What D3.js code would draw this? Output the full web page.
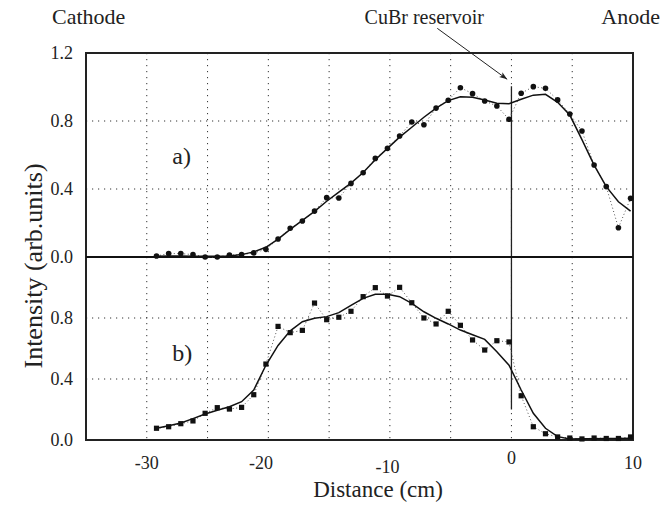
<!DOCTYPE html>
<html><head><meta charset="utf-8">
<script src="https://cdn.jsdelivr.net/npm/d3@7/dist/d3.min.js"></script>
<style>
html,body{margin:0;padding:0;background:#fff;}
</style></head>
<body><svg id="c" width="666" height="506"></svg>
<script>
// ---- data ----
const distance = [-29.2,-28.2,-27.2,-26.2,-25.2,-24.2,-23.2,-22.2,-21.2,-20.2,
  -19.2,-18.2,-17.2,-16.2,-15.2,-14.2,-13.2,-12.2,-11.2,-10.2,
  -9.2,-8.2,-7.2,-6.2,-5.2,-4.2,-3.2,-2.2,-1.2,-0.2,
  0.8,1.8,2.8,3.8,4.8,5.8,6.8,7.8,8.8,9.8];
const measuredA = [0.006,0.02,0.02,0.014,0.0,0.0,0.012,0.014,0.024,0.045,
  0.106,0.169,0.212,0.27,0.349,0.347,0.433,0.496,0.58,0.639,
  0.712,0.794,0.778,0.876,0.922,0.996,0.961,0.918,0.888,0.81,
  0.963,1.002,0.992,0.924,0.841,0.741,0.541,0.414,0.172,0.345];
const fitA = [0.004,0.006,0.006,0.005,0.004,0.004,0.006,0.014,0.03,0.057,
  0.105,0.162,0.215,0.268,0.328,0.382,0.435,0.497,0.572,0.639,
  0.705,0.763,0.822,0.876,0.92,0.943,0.94,0.924,0.905,0.902,
  0.928,0.952,0.957,0.91,0.835,0.69,0.541,0.414,0.325,0.27];
const measuredB = [0.077,0.087,0.107,0.125,0.175,0.212,0.203,0.214,0.297,0.498,
  0.745,0.704,0.719,0.898,0.789,0.805,0.844,0.94,0.999,0.944,
  1.001,0.9,0.8,0.761,0.844,0.752,0.656,0.59,0.651,0.643,
  0.29,0.087,0.041,0.02,0.013,0.007,0.013,0.01,0.01,0.02];
const fitB = [0.077,0.094,0.111,0.14,0.17,0.195,0.218,0.251,0.328,0.49,
  0.62,0.716,0.776,0.798,0.809,0.835,0.883,0.929,0.955,0.955,
  0.94,0.896,0.841,0.798,0.761,0.721,0.69,0.66,0.579,0.49,
  0.328,0.175,0.077,0.022,0.007,0.008,0.009,0.01,0.01,0.011];
const xTicks = [-30,-20,-10,0,10];
const xGrid = [-30,-25,-20,-15,-10,-5,0,5];
const yTicks = [0.0,0.4,0.8];
const yTicksTop = [0.0,0.4,0.8,1.2];
const reservoirX = 0;

// ---- scales ----
const svg = d3.select("#c");
const x = d3.scaleLinear([-35,10],[86,633]);
const yA = d3.scaleLinear([0,1.2],[257,53]);
const yB = d3.scaleLinear([0,1.2],[440,257]);
const fmt = d3.format(".1f");
const FONT = "'Liberation Serif', 'Tinos', 'Times New Roman', serif";
function txt(sel, size){
  return sel.style("font-family", FONT, "important").style("font-size", size+"px", "important")
    .style("fill", "#222", "important");
}

// grids
const grid = svg.append("g").attr("stroke","#333").attr("stroke-width",1).attr("stroke-dasharray","1.2,4.8");
[[yA,[0.4,0.8]],[yB,[0.4,0.8]]].forEach(([ys,vals])=>{
  grid.selectAll(null).data(vals).enter().append("line")
    .attr("x1",x(-35)).attr("x2",x(10)).attr("y1",d=>ys(d)).attr("y2",d=>ys(d));
  grid.selectAll(null).data(xGrid).enter().append("line")
    .attr("x1",d=>x(d)).attr("x2",d=>x(d)).attr("y1",ys(1.2)).attr("y2",ys(0));
});

// reservoir line
svg.append("line").attr("x1",x(reservoirX)).attr("x2",x(reservoirX))
  .attr("y1",yA(1.005)).attr("y2",yB(0.2)).attr("stroke","#222").attr("stroke-width",1.3);

// frame
svg.append("rect").attr("x",x(-35)).attr("y",yA(1.2)).attr("width",x(10)-x(-35)).attr("height",yB(0)-yA(1.2))
  .attr("fill","none").attr("stroke","#222").attr("stroke-width",2);
svg.append("line").attr("x1",x(-35)).attr("x2",x(10)).attr("y1",yA(0)).attr("y2",yA(0))
  .attr("stroke","#111").attr("stroke-width",2.2);

function panel(ys, meas, fit, square){
  const g = svg.append("g");
  const ptsM = distance.map((d,i)=>[d,meas[i]]);
  const ptsF = distance.map((d,i)=>[d,fit[i]]);
  const line = d3.line().x(d=>x(d[0])).y(d=>ys(d[1]));
  g.append("path").attr("d",line(ptsM)).attr("fill","none").attr("stroke","#555")
    .attr("stroke-width",1).attr("stroke-dasharray","1,2.5");
  g.append("path").attr("d",line(ptsF)).attr("fill","none").attr("stroke","#111").attr("stroke-width",1.5);
  if(square){
    g.selectAll(null).data(ptsM).enter().append("rect")
      .attr("x",d=>x(d[0])-2.6).attr("y",d=>ys(d[1])-2.6).attr("width",5.2).attr("height",5.2).attr("fill","#111");
  } else {
    g.selectAll(null).data(ptsM).enter().append("circle")
      .attr("cx",d=>x(d[0])).attr("cy",d=>ys(d[1])).attr("r",2.8).attr("fill","#111");
  }
}
panel(yA, measuredA, fitA, false);
panel(yB, measuredB, fitB, true);

// y tick labels
txt(svg.selectAll(null).data(yTicksTop).enter().append("text")
  .attr("x",73).attr("y",d=>yA(d)).attr("dy","0.35em").attr("text-anchor","end").text(d=>fmt(d)), 18);
txt(svg.selectAll(null).data(yTicks).enter().append("text")
  .attr("x",73).attr("y",d=>yB(d)).attr("dy","0.35em").attr("text-anchor","end").text(d=>fmt(d)), 18);

// x tick labels (as placed in the original figure)
const xLabelAt = [-30,-20.6,-10.2,0,10];
const xLabelY = [469,469,473,464,469];
txt(svg.selectAll(null).data(xTicks).enter().append("text")
  .attr("x",(d,i)=>x(xLabelAt[i])).attr("y",(d,i)=>xLabelY[i]).attr("text-anchor","middle").text(d=>d), 18);

// axis titles
txt(svg.append("text").attr("x",378).attr("y",497).attr("text-anchor","middle").text("Distance (cm)"), 23);
txt(svg.append("text").attr("transform","translate(42,266) rotate(-90)").attr("text-anchor","middle")
  .text("Intensity (arb.units)"), 26);

// panel labels
txt(svg.append("text").attr("x",x(-27.9)).attr("y",yA(0.6)+9).text("a)"), 24);
txt(svg.append("text").attr("x",x(-27.9)).attr("y",yB(0.58)+9).text("b)"), 24);

// header labels
txt(svg.append("text").attr("x",52).attr("y",24).text("Cathode"), 22);
txt(svg.append("text").attr("x",484).attr("y",24).attr("text-anchor","end").text("CuBr reservoir"), 20);
txt(svg.append("text").attr("x",660).attr("y",24).attr("text-anchor","end").text("Anode"), 22);

// arrow
const defs = svg.append("defs");
defs.append("marker").attr("id","ah").attr("viewBox","0 0 10 10").attr("refX",10).attr("refY",5)
  .attr("markerWidth",8).attr("markerHeight",8).attr("orient","auto")
  .append("path").attr("d","M0,1.5 L10,5 L0,8.5 L2.5,5 Z").attr("fill","#222");
svg.append("line").attr("x1",x(-6.1)).attr("y1",yA(1.345)).attr("x2",x(-0.35)).attr("y2",yA(1.045))
  .attr("stroke","#222").attr("stroke-width",1).attr("marker-end","url(#ah)");
</script></body></html>
